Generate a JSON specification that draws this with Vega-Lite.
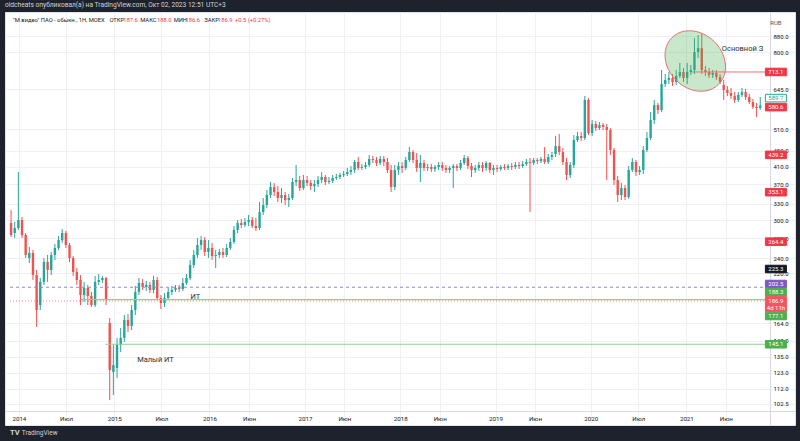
{
"$schema": "https://vega.github.io/schema/vega-lite/v6.json",
"width": 790, "height": 413,
"autosize": {"type": "none"},
"padding": {"left": 5, "top": 12, "right": 5, "bottom": 16},
"background": "#1e222d",
"title": {"text": "oldcheats опубликовал(а) на TradingView.com, Окт 02, 2023 12:51 UTC+3", "anchor": "start", "frame": "group", "offset": 0, "baseline": "middle", "color": "#d1d4dc", "fontSize": 6.6, "fontWeight": "normal", "font": "Roboto"},
"config": {"view": {"fill": "#ffffff", "stroke": "#e0e3eb", "strokeWidth": 1}, "font": "Roboto"},
"datasets": {
"candles": [
{"d":"2013-12-02","o":294.9,"h":318.1,"l":271.7,"c":274.9},
{"d":"2013-12-16","o":278.1,"h":296.6,"l":270.1,"c":286.4},
{"d":"2013-12-30","o":286.4,"h":397.4,"l":283.0,"c":300.1},
{"d":"2014-01-13","o":300.1,"h":305.4,"l":270.1,"c":274.9},
{"d":"2014-01-27","o":274.9,"h":278.1,"l":240.3,"c":244.5},
{"d":"2014-02-10","o":240.3,"h":256.3,"l":233.4,"c":247.4},
{"d":"2014-02-24","o":247.4,"h":251.8,"l":211.3,"c":217.5},
{"d":"2014-03-10","o":217.5,"h":224.0,"l":160.5,"c":177.3},
{"d":"2014-03-24","o":182.5,"h":213.8,"l":177.3,"c":208.9},
{"d":"2014-04-07","o":208.9,"h":240.3,"l":205.2,"c":234.7},
{"d":"2014-04-21","o":234.7,"h":244.5,"l":208.9,"c":224.0},
{"d":"2014-05-05","o":224.0,"h":248.9,"l":217.5,"c":244.5},
{"d":"2014-05-19","o":244.5,"h":260.8,"l":237.5,"c":254.8},
{"d":"2014-06-02","o":254.8,"h":273.3,"l":251.8,"c":266.9},
{"d":"2014-06-16","o":266.9,"h":284.7,"l":262.3,"c":278.1},
{"d":"2014-06-30","o":278.1,"h":281.4,"l":254.8,"c":259.3},
{"d":"2014-07-14","o":259.3,"h":262.3,"l":234.7,"c":240.3},
{"d":"2014-07-28","o":240.3,"h":243.1,"l":216.3,"c":221.4},
{"d":"2014-08-11","o":221.4,"h":226.6,"l":205.2,"c":211.3},
{"d":"2014-08-25","o":211.3,"h":217.5,"l":182.5,"c":193.5},
{"d":"2014-09-08","o":193.5,"h":208.9,"l":185.7,"c":201.7},
{"d":"2014-09-22","o":201.7,"h":205.2,"l":182.5,"c":192.4},
{"d":"2014-10-06","o":192.4,"h":197.0,"l":180.4,"c":182.5},
{"d":"2014-10-20","o":182.5,"h":216.3,"l":180.4,"c":208.9},
{"d":"2014-11-03","o":208.9,"h":218.8,"l":205.2,"c":211.3},
{"d":"2014-11-17","o":211.3,"h":216.3,"l":207.6,"c":213.8},
{"d":"2014-12-01","o":213.8,"h":215.0,"l":182.5,"c":187.9},
{"d":"2014-12-15","o":164.3,"h":169.2,"l":104.7,"c":124.8},
{"d":"2014-12-29","o":123.4,"h":144.5,"l":107.8,"c":128.5},
{"d":"2015-01-12","o":126.3,"h":150.6,"l":119.1,"c":144.5},
{"d":"2015-01-26","o":144.5,"h":159.6,"l":138.7,"c":150.6},
{"d":"2015-02-09","o":150.6,"h":172.2,"l":147.1,"c":167.2},
{"d":"2015-02-23","o":167.2,"h":173.2,"l":155.9,"c":161.5},
{"d":"2015-03-09","o":161.5,"h":182.5,"l":157.7,"c":177.3},
{"d":"2015-03-23","o":177.3,"h":204.0,"l":172.2,"c":197.0},
{"d":"2015-04-06","o":197.0,"h":213.8,"l":193.5,"c":207.6},
{"d":"2015-04-20","o":207.6,"h":212.5,"l":199.3,"c":202.8},
{"d":"2015-05-04","o":202.8,"h":210.1,"l":198.1,"c":205.2},
{"d":"2015-05-18","o":205.2,"h":208.9,"l":195.8,"c":199.3},
{"d":"2015-06-01","o":199.3,"h":216.3,"l":195.8,"c":211.3},
{"d":"2015-06-15","o":211.3,"h":215.0,"l":187.9,"c":190.1},
{"d":"2015-06-29","o":190.1,"h":193.5,"l":178.3,"c":184.7},
{"d":"2015-07-13","o":184.7,"h":195.8,"l":180.4,"c":190.1},
{"d":"2015-07-27","o":190.1,"h":201.7,"l":187.9,"c":197.0},
{"d":"2015-08-10","o":197.0,"h":204.0,"l":193.5,"c":199.3},
{"d":"2015-08-24","o":199.3,"h":205.2,"l":197.0,"c":201.7},
{"d":"2015-09-07","o":201.7,"h":205.2,"l":197.0,"c":200.5},
{"d":"2015-09-21","o":200.5,"h":213.8,"l":198.1,"c":207.6},
{"d":"2015-10-05","o":207.6,"h":218.8,"l":205.2,"c":213.8},
{"d":"2015-10-19","o":213.8,"h":237.5,"l":211.3,"c":230.6},
{"d":"2015-11-02","o":230.6,"h":251.8,"l":226.6,"c":244.5},
{"d":"2015-11-16","o":244.5,"h":270.1,"l":240.3,"c":259.3},
{"d":"2015-11-30","o":259.3,"h":273.3,"l":251.8,"c":266.9},
{"d":"2015-12-14","o":266.9,"h":271.7,"l":243.1,"c":248.9},
{"d":"2015-12-28","o":248.9,"h":266.9,"l":240.3,"c":254.8},
{"d":"2016-01-11","o":254.8,"h":262.3,"l":237.5,"c":243.1},
{"d":"2016-01-25","o":243.1,"h":251.8,"l":226.6,"c":244.5},
{"d":"2016-02-08","o":244.5,"h":253.3,"l":240.3,"c":248.9},
{"d":"2016-02-22","o":248.9,"h":254.8,"l":240.3,"c":244.5},
{"d":"2016-03-07","o":244.5,"h":260.8,"l":241.7,"c":254.8},
{"d":"2016-03-21","o":254.8,"h":270.1,"l":251.8,"c":263.9},
{"d":"2016-04-04","o":263.9,"h":289.7,"l":260.8,"c":283.0},
{"d":"2016-04-18","o":283.0,"h":300.1,"l":278.1,"c":294.9},
{"d":"2016-05-02","o":294.9,"h":301.8,"l":286.4,"c":291.4},
{"d":"2016-05-16","o":291.4,"h":303.7,"l":288.0,"c":296.6},
{"d":"2016-05-30","o":296.6,"h":309.0,"l":289.7,"c":300.1},
{"d":"2016-06-13","o":300.1,"h":305.4,"l":286.4,"c":289.7},
{"d":"2016-06-27","o":289.7,"h":303.7,"l":281.4,"c":286.4},
{"d":"2016-07-11","o":286.4,"h":333.4,"l":283.0,"c":314.5},
{"d":"2016-07-25","o":314.5,"h":341.3,"l":309.0,"c":327.6},
{"d":"2016-08-08","o":327.6,"h":357.6,"l":321.9,"c":347.3},
{"d":"2016-08-22","o":347.3,"h":374.7,"l":341.3,"c":364.0},
{"d":"2016-09-05","o":364.0,"h":372.5,"l":345.3,"c":353.5},
{"d":"2016-09-19","o":353.5,"h":366.1,"l":333.4,"c":341.3},
{"d":"2016-10-03","o":341.3,"h":361.8,"l":331.5,"c":347.3},
{"d":"2016-10-17","o":347.3,"h":353.5,"l":327.6,"c":337.3},
{"d":"2016-10-31","o":337.3,"h":349.4,"l":323.8,"c":341.3},
{"d":"2016-11-14","o":341.3,"h":383.6,"l":337.3,"c":374.7},
{"d":"2016-11-28","o":374.7,"h":413.9,"l":366.1,"c":379.1},
{"d":"2016-12-12","o":379.1,"h":388.1,"l":355.5,"c":361.8},
{"d":"2016-12-26","o":361.8,"h":390.4,"l":357.6,"c":379.1},
{"d":"2017-01-09","o":379.1,"h":388.1,"l":366.1,"c":372.5},
{"d":"2017-01-23","o":372.5,"h":379.1,"l":357.6,"c":366.1},
{"d":"2017-02-06","o":366.1,"h":379.1,"l":353.5,"c":370.4},
{"d":"2017-02-20","o":370.4,"h":388.1,"l":364.0,"c":379.1},
{"d":"2017-03-06","o":379.1,"h":397.4,"l":372.5,"c":385.9},
{"d":"2017-03-20","o":385.9,"h":390.4,"l":368.2,"c":374.7},
{"d":"2017-04-03","o":374.7,"h":385.9,"l":370.4,"c":376.9},
{"d":"2017-04-17","o":376.9,"h":390.4,"l":372.5,"c":383.6},
{"d":"2017-05-01","o":383.6,"h":392.7,"l":379.1,"c":385.9},
{"d":"2017-05-15","o":385.9,"h":395.0,"l":381.4,"c":390.4},
{"d":"2017-05-29","o":390.4,"h":399.7,"l":385.9,"c":392.7},
{"d":"2017-06-12","o":392.7,"h":406.8,"l":388.1,"c":397.4},
{"d":"2017-06-26","o":397.4,"h":411.4,"l":390.4,"c":402.0},
{"d":"2017-07-10","o":402.0,"h":426.2,"l":395.0,"c":421.3},
{"d":"2017-07-24","o":421.3,"h":433.8,"l":402.0,"c":406.8},
{"d":"2017-08-07","o":406.8,"h":416.4,"l":402.0,"c":409.1},
{"d":"2017-08-21","o":409.1,"h":421.3,"l":404.4,"c":413.9},
{"d":"2017-09-04","o":413.9,"h":438.8,"l":409.1,"c":428.8},
{"d":"2017-09-18","o":428.8,"h":436.3,"l":418.8,"c":426.2},
{"d":"2017-10-02","o":426.2,"h":433.8,"l":411.4,"c":418.8},
{"d":"2017-10-16","o":418.8,"h":436.3,"l":413.9,"c":428.8},
{"d":"2017-10-30","o":428.8,"h":436.3,"l":411.4,"c":421.3},
{"d":"2017-11-13","o":421.3,"h":431.2,"l":395.0,"c":402.0},
{"d":"2017-11-27","o":402.0,"h":413.9,"l":353.5,"c":364.0},
{"d":"2017-12-11","o":364.0,"h":413.9,"l":357.6,"c":402.0},
{"d":"2017-12-25","o":402.0,"h":421.3,"l":390.4,"c":411.4},
{"d":"2018-01-08","o":411.4,"h":421.3,"l":395.0,"c":406.8},
{"d":"2018-01-22","o":406.8,"h":433.8,"l":402.0,"c":426.2},
{"d":"2018-02-05","o":426.2,"h":459.8,"l":421.3,"c":446.6},
{"d":"2018-02-19","o":446.6,"h":451.8,"l":418.8,"c":426.2},
{"d":"2018-03-05","o":426.2,"h":444.0,"l":397.4,"c":406.8},
{"d":"2018-03-19","o":406.8,"h":438.8,"l":374.7,"c":418.8},
{"d":"2018-04-02","o":418.8,"h":426.2,"l":399.7,"c":406.8},
{"d":"2018-04-16","o":406.8,"h":416.4,"l":399.7,"c":409.1},
{"d":"2018-04-30","o":409.1,"h":416.4,"l":397.4,"c":404.4},
{"d":"2018-05-14","o":404.4,"h":413.9,"l":397.4,"c":409.1},
{"d":"2018-05-28","o":409.1,"h":421.3,"l":402.0,"c":413.9},
{"d":"2018-06-11","o":413.9,"h":421.3,"l":399.7,"c":406.8},
{"d":"2018-06-25","o":406.8,"h":413.9,"l":395.0,"c":402.0},
{"d":"2018-07-09","o":402.0,"h":411.4,"l":395.0,"c":406.8},
{"d":"2018-07-23","o":406.8,"h":416.4,"l":361.8,"c":411.4},
{"d":"2018-08-06","o":411.4,"h":416.4,"l":399.7,"c":406.8},
{"d":"2018-08-20","o":406.8,"h":426.2,"l":402.0,"c":418.8},
{"d":"2018-09-03","o":418.8,"h":438.8,"l":413.9,"c":431.2},
{"d":"2018-09-17","o":431.2,"h":436.3,"l":404.4,"c":411.4},
{"d":"2018-10-01","o":411.4,"h":418.8,"l":385.9,"c":402.0},
{"d":"2018-10-15","o":402.0,"h":413.9,"l":395.0,"c":406.8},
{"d":"2018-10-29","o":406.8,"h":421.3,"l":399.7,"c":413.9},
{"d":"2018-11-12","o":413.9,"h":421.3,"l":397.4,"c":406.8},
{"d":"2018-11-26","o":406.8,"h":423.7,"l":399.7,"c":418.8},
{"d":"2018-12-10","o":418.8,"h":421.3,"l":395.0,"c":402.0},
{"d":"2018-12-24","o":402.0,"h":413.9,"l":390.4,"c":406.8},
{"d":"2019-01-07","o":406.8,"h":413.9,"l":397.4,"c":404.4},
{"d":"2019-01-21","o":404.4,"h":413.9,"l":399.7,"c":409.1},
{"d":"2019-02-04","o":409.1,"h":416.4,"l":402.0,"c":406.8},
{"d":"2019-02-18","o":406.8,"h":416.4,"l":402.0,"c":411.4},
{"d":"2019-03-04","o":411.4,"h":418.8,"l":402.0,"c":409.1},
{"d":"2019-03-18","o":409.1,"h":421.3,"l":404.4,"c":413.9},
{"d":"2019-04-01","o":413.9,"h":421.3,"l":404.4,"c":411.4},
{"d":"2019-04-15","o":411.4,"h":423.7,"l":406.8,"c":416.4},
{"d":"2019-04-29","o":416.4,"h":428.8,"l":411.4,"c":421.3},
{"d":"2019-05-13","o":421.3,"h":431.2,"l":314.5,"c":418.8},
{"d":"2019-05-27","o":418.8,"h":431.2,"l":413.9,"c":426.2},
{"d":"2019-06-10","o":426.2,"h":431.2,"l":416.4,"c":423.7},
{"d":"2019-06-24","o":423.7,"h":433.8,"l":418.8,"c":428.8},
{"d":"2019-07-08","o":428.8,"h":459.8,"l":416.4,"c":421.3},
{"d":"2019-07-22","o":421.3,"h":441.4,"l":416.4,"c":433.8},
{"d":"2019-08-05","o":433.8,"h":446.6,"l":426.2,"c":438.8},
{"d":"2019-08-19","o":441.4,"h":490.3,"l":433.8,"c":462.5},
{"d":"2019-09-02","o":462.5,"h":496.1,"l":438.8,"c":446.6},
{"d":"2019-09-16","o":446.6,"h":457.1,"l":413.9,"c":421.3},
{"d":"2019-09-30","o":421.3,"h":431.2,"l":379.1,"c":390.4},
{"d":"2019-10-14","o":390.4,"h":421.3,"l":383.6,"c":413.9},
{"d":"2019-10-28","o":413.9,"h":493.2,"l":406.8,"c":479.0},
{"d":"2019-11-11","o":479.0,"h":501.9,"l":473.4,"c":490.3},
{"d":"2019-11-25","o":490.3,"h":501.9,"l":476.2,"c":484.6},
{"d":"2019-12-09","o":484.6,"h":619.6,"l":479.0,"c":605.3},
{"d":"2019-12-23","o":605.3,"h":612.3,"l":493.2,"c":499.0},
{"d":"2020-01-06","o":499.0,"h":538.5,"l":490.3,"c":526.0},
{"d":"2020-01-20","o":526.0,"h":535.4,"l":504.9,"c":513.9},
{"d":"2020-02-03","o":513.9,"h":532.3,"l":507.9,"c":522.9},
{"d":"2020-02-17","o":522.9,"h":529.1,"l":507.9,"c":516.9},
{"d":"2020-03-02","o":516.9,"h":526.0,"l":379.1,"c":507.9},
{"d":"2020-03-16","o":507.9,"h":513.9,"l":438.8,"c":451.8},
{"d":"2020-03-30","o":451.8,"h":457.1,"l":368.2,"c":379.1},
{"d":"2020-04-13","o":379.1,"h":388.1,"l":333.4,"c":347.3},
{"d":"2020-04-27","o":347.3,"h":372.5,"l":337.3,"c":361.8},
{"d":"2020-05-11","o":361.8,"h":368.2,"l":337.3,"c":343.3},
{"d":"2020-05-25","o":343.3,"h":411.4,"l":339.3,"c":402.0},
{"d":"2020-06-08","o":402.0,"h":431.2,"l":397.4,"c":421.3},
{"d":"2020-06-22","o":421.3,"h":426.2,"l":388.1,"c":397.4},
{"d":"2020-07-06","o":397.4,"h":411.4,"l":390.4,"c":402.0},
{"d":"2020-07-20","o":402.0,"h":462.5,"l":392.7,"c":451.8},
{"d":"2020-08-03","o":451.8,"h":501.9,"l":446.6,"c":484.6},
{"d":"2020-08-17","o":484.6,"h":564.3,"l":479.0,"c":538.5},
{"d":"2020-08-31","o":538.5,"h":605.3,"l":526.0,"c":587.8},
{"d":"2020-09-14","o":587.8,"h":594.8,"l":557.7,"c":570.9},
{"d":"2020-09-28","o":570.9,"h":721.3,"l":564.3,"c":664.7},
{"d":"2020-10-12","o":664.7,"h":704.7,"l":653.1,"c":680.3},
{"d":"2020-10-26","o":680.3,"h":713.0,"l":664.7,"c":688.4},
{"d":"2020-11-09","o":688.4,"h":704.7,"l":657.0,"c":672.5},
{"d":"2020-11-23","o":672.5,"h":721.3,"l":660.8,"c":696.5},
{"d":"2020-12-07","o":696.5,"h":751.6,"l":688.4,"c":713.0},
{"d":"2020-12-21","o":713.0,"h":729.9,"l":672.5,"c":688.4},
{"d":"2021-01-04","o":688.4,"h":751.6,"l":664.7,"c":713.0},
{"d":"2021-01-18","o":713.0,"h":742.8,"l":700.5,"c":721.3},
{"d":"2021-02-01","o":721.3,"h":869.8,"l":704.7,"c":801.5},
{"d":"2021-02-15","o":801.5,"h":885.2,"l":773.9,"c":819.8},
{"d":"2021-03-01","o":819.8,"h":895.6,"l":704.7,"c":721.3},
{"d":"2021-03-15","o":721.3,"h":738.5,"l":696.5,"c":713.0},
{"d":"2021-03-29","o":713.0,"h":729.9,"l":688.4,"c":700.5},
{"d":"2021-04-12","o":700.5,"h":721.3,"l":688.4,"c":708.8},
{"d":"2021-04-26","o":708.8,"h":721.3,"l":680.3,"c":692.4},
{"d":"2021-05-10","o":692.4,"h":704.7,"l":664.7,"c":672.5},
{"d":"2021-05-24","o":660.8,"h":680.3,"l":605.3,"c":641.7},
{"d":"2021-06-07","o":641.7,"h":657.0,"l":619.6,"c":630.6},
{"d":"2021-06-21","o":630.6,"h":649.3,"l":608.8,"c":619.6},
{"d":"2021-07-05","o":619.6,"h":634.3,"l":594.8,"c":605.3},
{"d":"2021-07-19","o":605.3,"h":634.3,"l":598.3,"c":623.2},
{"d":"2021-08-02","o":623.2,"h":649.3,"l":616.0,"c":634.3},
{"d":"2021-08-16","o":634.3,"h":645.5,"l":605.3,"c":616.0},
{"d":"2021-08-30","o":616.0,"h":626.9,"l":591.3,"c":598.3},
{"d":"2021-09-13","o":598.3,"h":608.8,"l":574.3,"c":581.0},
{"d":"2021-09-27","o":581.0,"h":594.8,"l":548.1,"c":577.6},
{"d":"2021-10-11","o":577.6,"h":616.0,"l":570.9,"c":586.1}
],
"boxes": [
{"d":"2021-12-10","at":713.1,"k":"red","n":"1"},
{"d":"2021-12-10","at":612.0,"k":"white","n":"1"},
{"d":"2021-12-10","at":580.6,"k":"red","n":"1"},
{"d":"2021-12-10","at":439.2,"k":"red","n":"1"},
{"d":"2021-12-10","at":353.1,"k":"red","n":"1"},
{"d":"2021-12-10","at":264.4,"k":"red","n":"1"},
{"d":"2021-12-10","at":225.3,"k":"black","n":"1"},
{"d":"2021-12-10","at":206.4,"k":"purple","n":"1"},
{"d":"2021-12-10","at":196.6,"k":"green","n":"1"},
{"d":"2021-12-10","at":183.4,"k":"cur","n":"2"},
{"d":"2021-12-10","at":171.2,"k":"green","n":"1"},
{"d":"2021-12-10","at":145.1,"k":"green","n":"1"}
],
"boxtext": [
{"d":"2021-12-10","at":713.1,"t":"713.1","k":"red"},
{"d":"2021-12-10","at":612.0,"t":"589.7","k":"white"},
{"d":"2021-12-10","at":580.6,"t":"580.6","k":"red"},
{"d":"2021-12-10","at":439.2,"t":"439.2","k":"red"},
{"d":"2021-12-10","at":353.1,"t":"353.1","k":"red"},
{"d":"2021-12-10","at":264.4,"t":"264.4","k":"red"},
{"d":"2021-12-10","at":225.3,"t":"225.3","k":"black"},
{"d":"2021-12-10","at":206.4,"t":"202.5","k":"purple"},
{"d":"2021-12-10","at":196.6,"t":"188.3","k":"green"},
{"d":"2021-12-10","at":187.0,"t":"186.9","k":"cur"},
{"d":"2021-12-10","at":179.4,"t":"4d 11h","k":"cur"},
{"d":"2021-12-10","at":171.2,"t":"177.1","k":"green"},
{"d":"2021-12-10","at":145.1,"t":"145.1","k":"green"}
],
"hdr": [
{"d":"2013-12-09","p":966,"t":"\"М.видео\" ПАО - обыкн., 1Н, MOEX","k":"lab"},
{"d":"2014-12-14","p":966,"t":"ОТКР","k":"lab"},
{"d":"2015-02-05","p":966,"t":"187.6","k":"val"},
{"d":"2015-04-11","p":966,"t":"МАКС","k":"lab"},
{"d":"2015-06-14","p":966,"t":"188.0","k":"val"},
{"d":"2015-08-17","p":966,"t":"МИН","k":"lab"},
{"d":"2015-10-01","p":966,"t":"186.6","k":"val"},
{"d":"2015-12-12","p":966,"t":"ЗАКР","k":"lab"},
{"d":"2016-02-03","p":966,"t":"186.9","k":"val"},
{"d":"2016-04-08","p":966,"t":"+0.5 (+0.27%)","k":"val"}
],
"notes": [
{"d":"2015-10-20","p":191.8,"t":"ИТ"},
{"d":"2015-03-30","p":132.3,"t":"Малый ИТ"},
{"d":"2021-05-17","p":815.6,"t":"Основной З"}
]
},
"layer": [
{"data": {"name": "candles"},
 "mark": {"type": "rule", "strokeWidth": 1},
 "encoding": {
  "x": {"field": "d", "type": "temporal", "title": null,
   "scale": {"type": "utc", "nice": false, "domain": [{"year": 2013, "month": 11, "date": 28, "utc": true}, {"year": 2022, "month": 2, "date": 2, "utc": true}]},
   "axis": {"orient": "bottom", "offset": -14, "title": null,
    "values": [{"year":2014,"month":1,"date":1,"utc":true},{"year":2014,"month":7,"date":1,"utc":true},{"year":2015,"month":1,"date":1,"utc":true},{"year":2015,"month":7,"date":1,"utc":true},{"year":2016,"month":1,"date":1,"utc":true},{"year":2016,"month":6,"date":1,"utc":true},{"year":2017,"month":1,"date":1,"utc":true},{"year":2017,"month":6,"date":1,"utc":true},{"year":2018,"month":1,"date":1,"utc":true},{"year":2018,"month":6,"date":1,"utc":true},{"year":2019,"month":1,"date":1,"utc":true},{"year":2019,"month":6,"date":1,"utc":true},{"year":2020,"month":1,"date":1,"utc":true},{"year":2020,"month":7,"date":1,"utc":true},{"year":2021,"month":1,"date":1,"utc":true},{"year":2021,"month":6,"date":1,"utc":true}],
    "labelExpr": "utcmonth(datum.value) == 0 ? utcFormat(datum.value, '%Y') : (utcmonth(datum.value) == 5 ? 'Июн' : 'Июл')",
    "domain": true, "domainColor": "#d6d9e0", "domainWidth": 1,
    "ticks": false, "tickSize": 0, "labelPadding": 7, "labelBaseline": "middle", "labelAlign": "center",
    "labelFontSize": 6.2, "labelColor": "#131722", "labelFont": "Roboto", "labelFlush": false, "labelOverlap": false,
    "grid": true, "gridColor": "#eef0f5", "gridWidth": 1}},
  "y": {"field": "l", "type": "quantitative", "title": null,
   "scale": {"type": "log", "domain": [90.5, 1012.6], "nice": false, "zero": false},
   "axis": {"orient": "right", "offset": -25, "title": null,
    "values": [102.5, 112, 123, 135, 148, 164, 220, 240, 270, 300, 330, 370, 410, 450, 510, 645, 800, 880],
    "format": ".1f", "domain": true, "domainColor": "#d6d9e0", "domainWidth": 1,
    "ticks": false, "tickSize": 0, "labelPadding": 3, "labelAlign": "left", "labelBaseline": "middle",
    "labelFontSize": 6, "labelColor": "#131722", "labelFont": "Roboto", "labelFlush": false, "labelOverlap": false,
    "grid": true, "gridColor": "#eef0f5", "gridWidth": 1}},
  "y2": {"field": "h", "title": null},
  "color": {"condition": {"test": "datum.c >= datum.o", "value": "#26a69a"}, "value": "#ef5350"}
 }},
{"data": {"name": "candles"},
 "mark": {"type": "bar", "width": 2.4},
 "encoding": {
  "x": {"field": "d", "type": "temporal", "title": null},
  "y": {"field": "o", "type": "quantitative", "title": null},
  "y2": {"field": "c", "title": null},
  "color": {"condition": {"test": "datum.c >= datum.o", "value": "#26a69a"}, "value": "#ef5350"}
 }},
{"data": {"values": [{"d": "2021-02-04", "p": 760.3}]},
 "mark": {"type": "point", "shape": "M -0.7071 -0.7071 A 1 0.82 45 1 1 0.7071 0.7071 A 1 0.82 45 1 1 -0.7071 -0.7071 Z", "size": 4356, "filled": true, "fill": "#4caf50", "fillOpacity": 0.3, "stroke": "#e57373", "strokeWidth": 1, "strokeOpacity": 1, "opacity": 1},
 "encoding": {
  "x": {"field": "d", "type": "temporal", "title": null},
  "y": {"field": "p", "type": "quantitative", "title": null}
 }},
{"data": {"values": [{"d": "2013-11-28", "e": "2021-10-29", "p": 202.5}]},
 "mark": {"type": "rule", "color": "#8e8ad6", "strokeWidth": 1, "strokeDash": [3, 3]},
 "encoding": {
  "x": {"field": "d", "type": "temporal", "title": null},
  "x2": {"field": "e", "title": null},
  "y": {"field": "p", "type": "quantitative", "title": null}
 }},
{"data": {"values": [{"d": "2013-11-28", "e": "2021-10-29", "p": 186.9}]},
 "mark": {"type": "rule", "color": "#f23645", "strokeWidth": 1, "strokeDash": [1, 2], "opacity": 0.6},
 "encoding": {
  "x": {"field": "d", "type": "temporal", "title": null},
  "x2": {"field": "e", "title": null},
  "y": {"field": "p", "type": "quantitative", "title": null}
 }},
{"data": {"values": [{"d": "2014-08-27", "e": "2021-10-29", "p": 188.3}, {"d": "2014-11-28", "e": "2021-10-29", "p": 145.1}]},
 "mark": {"type": "rule", "color": "#8fcf92", "strokeWidth": 1.2},
 "encoding": {
  "x": {"field": "d", "type": "temporal", "title": null},
  "x2": {"field": "e", "title": null},
  "y": {"field": "p", "type": "quantitative", "title": null}
 }},
{"data": {"values": [{"d": "2021-01-20", "e": "2021-10-29", "p": 713.1}]},
 "mark": {"type": "rule", "color": "#ee6f78", "strokeWidth": 1},
 "encoding": {
  "x": {"field": "d", "type": "temporal", "title": null},
  "x2": {"field": "e", "title": null},
  "y": {"field": "p", "type": "quantitative", "title": null}
 }},
{"data": {"name": "notes"},
 "mark": {"type": "text", "align": "left", "baseline": "middle", "fontSize": 7.5, "color": "#2a2e39", "font": "Roboto"},
 "encoding": {
  "x": {"field": "d", "type": "temporal", "title": null},
  "y": {"field": "p", "type": "quantitative", "title": null},
  "text": {"field": "t"}
 }},
{"data": {"name": "hdr"},
 "mark": {"type": "text", "align": "left", "baseline": "middle", "fontSize": 5.8, "font": "Roboto"},
 "encoding": {
  "x": {"field": "d", "type": "temporal", "title": null},
  "y": {"field": "p", "type": "quantitative", "title": null},
  "text": {"field": "t"},
  "color": {"field": "k", "type": "nominal", "scale": {"domain": ["lab", "val"], "range": ["#131722", "#f23645"]}, "legend": null}
 }},
{"data": {"name": "boxes"},
 "mark": {"type": "point", "size": 441, "filled": true, "opacity": 1, "strokeWidth": 1},
 "encoding": {
  "x": {"field": "d", "type": "temporal", "title": null},
  "y": {"field": "at", "type": "quantitative", "title": null},
  "shape": {"field": "n", "type": "nominal", "scale": {"domain": ["1", "2"], "range": ["M -1 -0.36 L 1 -0.36 L 1 0.36 L -1 0.36 Z", "M -1 -0.72 L 1 -0.72 L 1 0.72 L -1 0.72 Z"]}, "legend": null},
  "fill": {"field": "k", "type": "nominal", "scale": {"domain": ["red", "cur", "white", "black", "purple", "green"], "range": ["#f23645", "#f7525f", "#ffffff", "#131722", "#7e57c2", "#4caf50"]}, "legend": null},
  "stroke": {"field": "k", "type": "nominal", "scale": {"domain": ["red", "cur", "white", "black", "purple", "green"], "range": ["#f23645", "#f7525f", "#22ab94", "#131722", "#7e57c2", "#4caf50"]}, "legend": null}
 }},
{"data": {"name": "boxtext"},
 "mark": {"type": "text", "align": "center", "baseline": "middle", "fontSize": 6, "font": "Roboto"},
 "encoding": {
  "x": {"field": "d", "type": "temporal", "title": null},
  "y": {"field": "at", "type": "quantitative", "title": null},
  "text": {"field": "t"},
  "color": {"condition": {"test": "datum.k === 'white'", "value": "#22ab94"}, "value": "#ffffff"}
 }},
{"data": {"values": [{"d": "2021-12-10", "p": 952, "t": "RUB"}]},
 "mark": {"type": "text", "align": "center", "baseline": "middle", "fontSize": 6, "font": "Roboto", "color": "#50535e"},
 "encoding": {
  "x": {"field": "d", "type": "temporal", "title": null},
  "y": {"field": "p", "type": "quantitative", "title": null},
  "text": {"field": "t"}
 }},
{"data": {"values": [{"d": "2013-11-28", "p": 86.6, "t": "TV"}]},
 "mark": {"type": "text", "align": "left", "baseline": "middle", "fontSize": 7.5, "fontWeight": "bold", "font": "Roboto", "color": "#d1d4dc"},
 "encoding": {
  "x": {"field": "d", "type": "temporal", "title": null},
  "y": {"field": "p", "type": "quantitative", "title": null},
  "text": {"field": "t"}
 }},
{"data": {"values": [{"d": "2014-01-12", "p": 86.6, "t": "TradingView"}]},
 "mark": {"type": "text", "align": "left", "baseline": "middle", "fontSize": 6.5, "font": "Roboto", "color": "#d1d4dc"},
 "encoding": {
  "x": {"field": "d", "type": "temporal", "title": null},
  "y": {"field": "p", "type": "quantitative", "title": null},
  "text": {"field": "t"}
 }}
]
}
